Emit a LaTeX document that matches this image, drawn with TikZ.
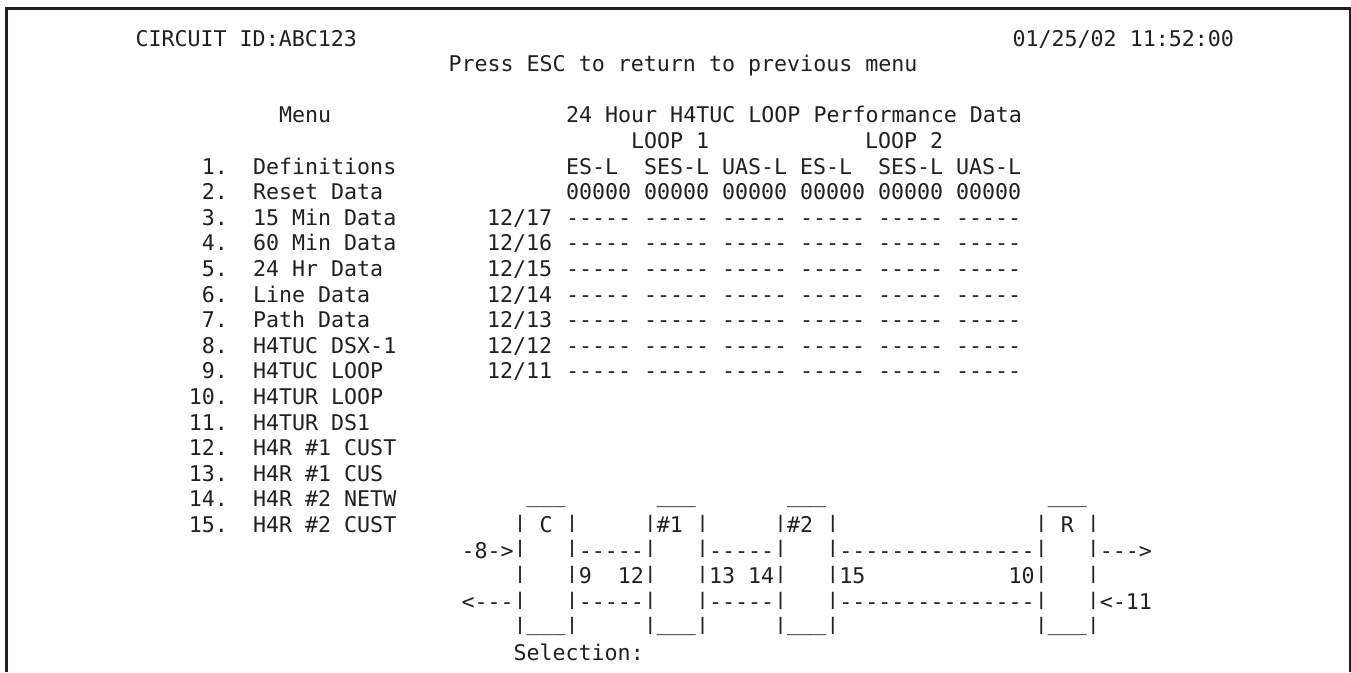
\documentclass[tikz,border=0pt]{standalone}
\usepackage{graphicx}
\usepackage{fontspec}
\newfontfamily\termfont{DejaVu Sans Mono}
\definecolor{termink}{HTML}{231F20}
\newcommand{\tpipe}{\raisebox{4.1pt}{\scalebox{1}[0.8]{|}}}
\newcommand{\tbar}{\raisebox{4.6pt}{\_\_\_}}

\begin{document}
\begin{tikzpicture}[
	x = 1pt,
	y = -1pt,
	every node/.style = {
	anchor = base west,
	inner sep = 0pt,
	outer sep = 0pt,
	text = termink
	},
	line/.style = {
	font = \termfont\fontsize{21.64}{24}\selectfont
	}
	]
	\useasboundingbox (0,0) rectangle (1351,672);

	\draw[termink, line width=2.6pt] (6.5,672) -- (6.5,8.2) -- (1349.8,8.2) -- (1349.8,672);

	\node[line] (circuit) at (135.5,46) {CIRCUIT ID:ABC123};
	\node[line] (clock) at (1012.5,46) {01/25/02 11:52:00};
	\node[line] (press) at (448.5,71.6) {Press ESC to return to previous menu};
	\node[line] (menu) at (279,122.8) {Menu};
	\node[line] (title) at (566,122.4) {24 Hour H4TUC LOOP Performance Data};

	% menu entries
	\foreach \num/\name [count=\i from 0] in {
		1./Definitions, 2./Reset Data, 3./15 Min Data, 4./60 Min Data,
		5./24 Hr Data, 6./Line Data, 7./Path Data, 8./H4TUC DSX-1,
		9./H4TUC LOOP, 10./H4TUR LOOP, 11./H4TUR DS1, 12./H4R \#1 CUST,
		13./H4R \#1 CUS, 14./H4R \#2 NETW, 15./H4R \#2 CUST}{
		\node[line, anchor=base east] (num\i) at (228,174+25.6*\i) {\num};
		\node[line] (item\i) at (253,174+25.6*\i) {\name};
	}

	% table head
	\node[line] (loop1) at (631,148.4) {LOOP 1};
	\node[line] (loop2) at (865,148.4) {LOOP 2};
	\foreach \x/\name [count=\i] in {566/ES-L, 644/SES-L, 722/UAS-L, 800/ES-L, 878/SES-L, 956/UAS-L}{
		\node[line] (head\i) at (\x,174) {\name};
		\node[line] (zero\i) at (\x,199.6) {00000};
	}

	% table rows
	\foreach \day [count=\r from 0] in {17,16,15,14,13,12,11}{
		\node[line] (day\r) at (487,225.2+25.6*\r) {12/\day};
		\foreach \x [count=\i] in {566,644,722,800,878,956}{
			\node[line] (dash\r-\i) at (\x,225.2+25.6*\r) {-----};
		}
	}

	% loop diagram
	\foreach \row [count=\r from 0] in {
		{~~~~~\tbar~~~~~~~\tbar~~~~~~~\tbar~~~~~~~~~~~~~~~~~\tbar},
		{~~~~\tpipe~C~\tpipe~~~~~\tpipe\#1~\tpipe~~~~~\tpipe\#2~\tpipe~~~~~~~~~~~~~~~\tpipe~R~\tpipe},
		{-8->\tpipe~~~\tpipe-----\tpipe~~~\tpipe-----\tpipe~~~\tpipe---------------\tpipe~~~\tpipe--->},
		{~~~~\tpipe~~~\tpipe9~~12\tpipe~~~\tpipe13~14\tpipe~~~\tpipe15~~~~~~~~~~~10\tpipe~~~\tpipe},
		{<---\tpipe~~~\tpipe-----\tpipe~~~\tpipe-----\tpipe~~~\tpipe---------------\tpipe~~~\tpipe<-11},
		{~~~~\tpipe\tbar\tpipe~~~~~\tpipe\tbar\tpipe~~~~~\tpipe\tbar\tpipe~~~~~~~~~~~~~~~\tpipe\tbar\tpipe}}{
		\node[line] (span\r) at (461.5,506.8+25.6*\r) {\row};
	}
	\node[line] (selection) at (513.5,660.4) {Selection:};
\end{tikzpicture}
\end{document}
